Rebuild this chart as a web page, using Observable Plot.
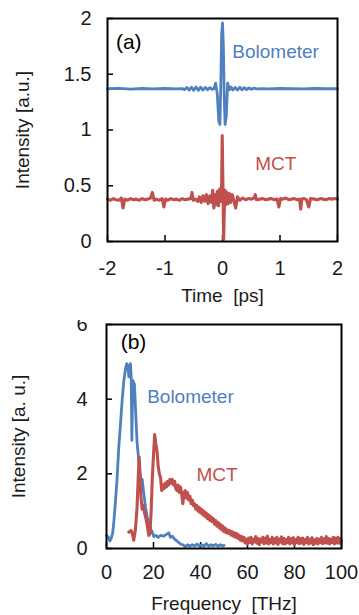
<!DOCTYPE html>
<html><head><meta charset="utf-8">
<script src="https://cdn.jsdelivr.net/npm/d3@7"></script>
<script src="https://cdn.jsdelivr.net/npm/@observablehq/plot@0.6"></script>
<style>
body{margin:0;background:#fff;}
#a,#b{width:359px;}
</style></head><body>
<div id="a"></div><div id="b"></div>
<script>
// ---- tick labels ----
const timeTicks = [-2, -1, 0, 1, 2];
const timeIntensityTicks = [0, 0.5, 1, 1.5, 2];
const freqTicks = [0, 20, 40, 60, 80, 100];
const freqIntensityTicks = [0, 2, 4, 6];
const seriesNames = ["Bolometer", "MCT"];

// ---- (a) time domain ----
const bolTime = [-2.0,-1.8,-1.6,-1.4,-1.2,-1.0,-0.8,-0.7,-0.66,-0.62,-0.58,-0.54,-0.5,-0.46,-0.42,-0.38,-0.34,-0.3,-0.26,-0.22,-0.18,-0.15,-0.12,-0.09,-0.065,-0.045,-0.03,-0.015,0.0,0.015,0.03,0.045,0.065,0.09,0.12,0.15,0.18,0.22,0.26,0.3,0.34,0.38,0.42,0.46,0.5,0.54,0.6,0.7,0.8,1.0,1.2,1.4,1.6,1.8,2.0];
const bolTimeI = [1.37,1.374,1.366,1.372,1.368,1.372,1.368,1.372,1.362,1.382,1.358,1.384,1.356,1.386,1.356,1.384,1.358,1.382,1.36,1.38,1.364,1.37,1.42,1.32,1.08,1.05,1.4,1.85,1.96,1.75,1.3,1.05,1.12,1.42,1.36,1.385,1.358,1.382,1.358,1.384,1.36,1.38,1.362,1.378,1.365,1.375,1.368,1.372,1.368,1.372,1.37,1.368,1.372,1.37,1.37];

const mctTime = [-2.0,-1.95,-1.9,-1.85,-1.8,-1.76,-1.73,-1.70,-1.65,-1.6,-1.55,-1.5,-1.45,-1.4,-1.35,-1.3,-1.25,-1.22,-1.19,-1.15,-1.1,-1.05,-1.02,-0.99,-0.95,-0.9,-0.85,-0.8,-0.75,-0.7,-0.65,-0.6,-0.55,-0.53,-0.51,-0.47,-0.43,-0.4,-0.37,-0.34,-0.31,-0.28,-0.25,-0.22,-0.19,-0.17,-0.15,-0.13,-0.11,-0.09,-0.07,-0.05,-0.03,-0.015,-0.005,0.008,0.02,0.032,0.045,0.06,0.08,0.1,0.12,0.14,0.17,0.2,0.23,0.26,0.3,0.35,0.4,0.45,0.5,0.55,0.57,0.59,0.65,0.7,0.75,0.8,0.85,0.9,0.95,0.98,1.01,1.05,1.1,1.15,1.2,1.25,1.3,1.34,1.36,1.38,1.42,1.46,1.5,1.53,1.6,1.65,1.7,1.75,1.8,1.85,1.9,1.95,2.0];
const mctTimeI = [0.38,0.37,0.385,0.375,0.37,0.39,0.30,0.38,0.37,0.385,0.375,0.38,0.37,0.385,0.375,0.38,0.39,0.44,0.37,0.38,0.37,0.385,0.31,0.38,0.37,0.385,0.375,0.38,0.37,0.385,0.375,0.38,0.385,0.44,0.37,0.38,0.36,0.40,0.35,0.41,0.36,0.42,0.34,0.41,0.35,0.46,0.30,0.42,0.33,0.45,0.32,0.47,0.36,0.5,0.95,0.5,0.02,0.3,0.46,0.33,0.44,0.34,0.43,0.35,0.42,0.36,0.30,0.40,0.37,0.39,0.375,0.385,0.38,0.39,0.42,0.375,0.38,0.385,0.375,0.38,0.385,0.375,0.38,0.31,0.385,0.38,0.39,0.375,0.38,0.385,0.375,0.38,0.29,0.38,0.385,0.375,0.31,0.385,0.38,0.375,0.385,0.38,0.375,0.385,0.38,0.385,0.38];

// ---- (b) frequency domain ----
const bolFreq = [0,0.8,1.4,2.0,2.6,3.1,3.8,4.5,5.2,6.0,6.7,7.4,8.1,8.6,9.1,9.5,9.9,10.2,10.5,10.8,11.2,11.9,12.3,13.0,13.8,14.5,15.2,15.9,16.6,17.3,18.0,18.7,19.4,20.1,21.0,22.0,23.0,24.4,25.5,26.5,27.2,28.0,29.0,30.0,31.5,32.5,33.5,34.5,35.5,36.5,37.5,38.5,39.5,40.5,41.5,42.5,43.5,44.5,45.5,46.5,47.5,48.5,49.5,50];
const bolFreqI = [0.35,0.3,0.2,0.28,0.4,0.7,1.24,1.87,2.68,3.38,4.0,4.5,4.82,4.95,4.9,4.6,4.85,4.95,4.6,2.9,4.5,4.4,3.8,2.85,2.3,1.9,1.85,1.45,1.1,0.85,0.65,0.53,0.45,0.32,0.35,0.3,0.35,0.33,0.38,0.42,0.3,0.33,0.25,0.2,0.12,0.1,0.05,0.1,0.06,0.1,0.07,0.12,0.06,0.1,0.06,0.13,0.06,0.1,0.07,0.11,0.06,0.1,0.07,0.08];

const mctFreq = [9.5,10.5,11.0,11.6,12.3,13.0,13.5,13.9,14.3,14.7,15.2,15.7,16.2,16.8,17.4,18.0,18.5,19.0,19.5,20.0,20.5,21.0,21.5,22.0,22.5,23.0,23.5,24.0,24.5,25.0,25.5,26.0,26.5,27.0,27.5,28.0,28.5,29.0,29.5,30.0,30.5,31.0,31.5,32.0,32.5,33.0,33.5,34.0,34.5,35.0,35.5,36.0,36.5,37.0,37.5,38.0,38.5,39.0,39.5,
  40,40.5,41,41.5,42,42.5,43,43.5,44,44.5,45,45.5,46,46.5,47,47.5,48,48.5,49,49.5,50,50.5,51,51.5,52,52.5,53,53.5,54,54.5,55,55.5,56,56.5,57,57.5,58,58.5,59,59.5,
  60,60.5,61,61.5,62,62.5,63,63.5,64,64.5,65,65.5,66,66.5,67,67.5,68,68.5,69,69.5,70,70.5,71,71.5,72,72.5,73,73.5,74,74.5,75,75.5,76,76.5,77,77.5,78,78.5,79,79.5,
  80,80.5,81,81.5,82,82.5,83,83.5,84,84.5,85,85.5,86,86.5,87,87.5,88,88.5,89,89.5,90,90.5,91,91.5,92,92.5,93,93.5,94,94.5,95,95.5,96,96.5,97,97.5,98,98.5,99,99.5,100];
const mctFreqI = [0.44,0.48,0.40,0.22,0.5,1.1,1.9,2.45,1.9,1.35,1.05,1.15,0.95,0.8,0.6,0.35,0.4,1.0,1.9,2.5,3.05,2.8,2.6,2.2,2.0,1.9,1.55,1.7,1.6,1.75,1.65,1.8,1.7,1.85,1.75,1.85,1.7,1.8,1.6,1.55,1.7,1.5,1.65,1.45,1.2,1.5,1.55,1.35,1.5,1.3,1.4,1.2,1.3,1.15,1.2,1.05,1.15,1.0,1.1,
  0.95,1.05,0.9,1.0,0.85,0.95,0.8,0.9,0.75,0.85,0.72,0.8,0.65,0.75,0.6,0.7,0.55,0.65,0.5,0.6,0.45,0.55,0.42,0.5,0.4,0.48,0.36,0.45,0.33,0.42,0.3,0.4,0.27,0.35,0.22,0.32,0.2,0.3,0.15,0.25,
  0.12,0.28,0.16,0.3,0.12,0.25,0.18,0.32,0.14,0.27,0.1,0.25,0.17,0.3,0.13,0.28,0.15,0.33,0.12,0.24,0.16,0.3,0.12,0.26,0.15,0.3,0.11,0.25,0.17,0.31,0.13,0.27,0.12,0.24,0.16,0.3,0.12,0.26,0.15,0.29,
  0.1,0.24,0.16,0.3,0.13,0.27,0.15,0.28,0.11,0.24,0.16,0.3,0.12,0.25,0.15,0.29,0.1,0.23,0.14,0.27,0.12,0.25,0.16,0.3,0.13,0.26,0.15,0.32,0.14,0.27,0.12,0.25,0.16,0.3,0.12,0.28,0.15,0.3,0.14,0.27,0.2];

// ---- annotations (data coordinates) ----
const tagA = [{x: -1.63, y: 1.785, text: "(a)"}];
const nameA = [
  {x: 0.17, y: 1.70, text: seriesNames[0]},
  {x: 0.57, y: 0.70, text: seriesNames[1]}
];
const tagB = [{x: 11.5, y: 5.53, text: "(b)"}];
const nameB = [
  {x: 17.3, y: 4.07, text: seriesNames[0]},
  {x: 38.3, y: 1.96, text: seriesNames[1]}
];

const colors = {Bolometer: "#4f81bd", MCT: "#c0504d"};
const widths = {Bolometer: 2.8, MCT: 3.1};
const fmt = d => String(d);
const FONT = "'Liberation Sans', Arial, Helvetica, sans-serif";
const INK = "#1a1a1a";

function rows(xs, ys, name) { return xs.map((x, i) => ({x, y: ys[i], s: name})); }

function panel(o) {
  return Plot.plot({
    width: 359, height: o.height,
    marginTop: o.mt, marginBottom: o.mb, marginLeft: o.ml, marginRight: o.mr,
    style: {fontFamily: FONT, fontSize: "20px", color: INK, background: "#fff", overflow: "hidden"},
    x: {domain: o.xDomain},
    y: {domain: o.yDomain},
    marks: [
      Plot.axisX(o.xTicks, {tickSize: 0, tickPadding: o.xPad, tickFormat: fmt, label: null, fontSize: 20}),
      Plot.axisX(o.xTicks, {tickSize: 6, dy: -6, tickFormat: () => "", label: null, strokeWidth: 1.5, stroke: "#000"}),
      Plot.axisY(o.yTicks, {tickSize: 0, tickPadding: o.yPad, tickFormat: fmt, label: null, fontSize: 20}),
      Plot.axisY(o.yTicks, {tickSize: 6, dx: 6, tickFormat: () => "", label: null, strokeWidth: 1.5, stroke: "#000"}),
      ...o.series.map(s => Plot.line(s, {x: "x", y: "y", stroke: colors[s[0].s], strokeWidth: widths[s[0].s], strokeLinejoin: "round", strokeLinecap: "round", curve: "linear"})),
      Plot.frame({stroke: "#000", strokeWidth: 2}),
      Plot.text(o.tag, {x: "x", y: "y", text: "text", fill: "#000", textAnchor: "middle", fontSize: 21}),
      Plot.text(o.names, {x: "x", y: "y", text: "text", fill: d => colors[d.text], textAnchor: "start", fontSize: 19}),
      Plot.text([o.xLabel], {frameAnchor: "bottom", dy: o.xLabelDy, textAnchor: "middle", lineAnchor: "middle", fontSize: 19, fill: INK}),
      Plot.text([o.yLabel], {frameAnchor: "left", dx: o.yLabelDx, rotate: -90, textAnchor: "middle", lineAnchor: "middle", fontSize: 19, fill: INK})
    ]
  });
}

document.getElementById("a").append(panel({
  height: 320, mt: 18, mb: 79, ml: 107, mr: 22,
  xDomain: [-2, 2], yDomain: [0, 2], xTicks: timeTicks, yTicks: timeIntensityTicks,
  xPad: 19, yPad: 16,
  series: [rows(bolTime, bolTimeI, "Bolometer"), rows(mctTime, mctTimeI, "MCT")],
  tag: tagA, names: nameA, xLabel: "Time  [ps]", xLabelDy: 54, yLabel: "Intensity [a.u.]", yLabelDx: -85
}));
document.getElementById("b").append(panel({
  height: 295, mt: 4, mb: 67, ml: 106, mr: 18,
  xDomain: [0, 100], yDomain: [0, 6], xTicks: freqTicks, yTicks: freqIntensityTicks,
  xPad: 16, yPad: 19,
  series: [rows(bolFreq, bolFreqI, "Bolometer"), rows(mctFreq, mctFreqI, "MCT")],
  tag: tagB, names: nameB, xLabel: "Frequency  [THz]", xLabelDy: 55, yLabel: "Intensity [a. u.]", yLabelDx: -88
}));
</script>
</body></html>
